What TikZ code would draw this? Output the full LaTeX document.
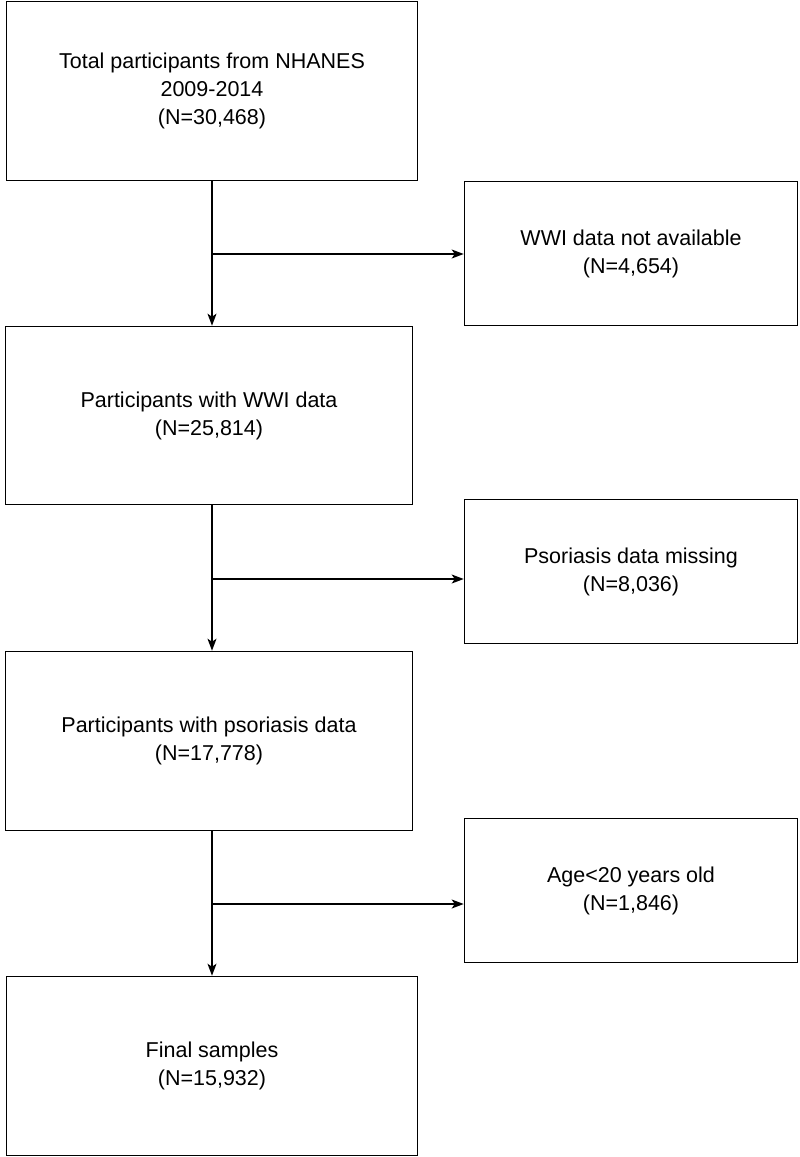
\documentclass[tikz,border=0pt]{standalone}
\usepackage{fontspec}
\setmainfont{Liberation Sans}
\usetikzlibrary{arrows.meta}
\begin{document}
\begin{tikzpicture}[x=1pt,y=-1pt,
  box/.style={draw=black, line width=1.6pt, inner sep=0pt, align=center,
    font=\fontsize{21.5}{28}\selectfont},
  link/.style={line width=1.3pt, draw=black},
  arr/.style={link, -{Stealth[length=12pt,width=9pt,inset=3pt]}}]
\useasboundingbox (0,0) rectangle (800,1157);
\node[box, minimum width=411pt, minimum height=179pt] (b1) at (212,91) {Total participants from NHANES\\2009-2014\\(N=30,468)};
\node[box, minimum width=407pt, minimum height=178pt] (b2) at (209,415.5) {Participants with WWI data\\(N=25,814)};
\node[box, minimum width=407pt, minimum height=179pt] (b3) at (209,741) {Participants with psoriasis data\\(N=17,778)};
\node[box, minimum width=411pt, minimum height=179pt] (b4) at (212,1066) {Final samples\\(N=15,932)};
\node[box, minimum width=333pt, minimum height=144pt] (r1) at (631,253.5) {WWI data not available\\(N=4,654)};
\node[box, minimum width=333pt, minimum height=144pt] (r2) at (631,571.5) {Psoriasis data missing\\(N=8,036)};
\node[box, minimum width=333pt, minimum height=144pt] (r3) at (631,890.5) {Age<20 years old\\(N=1,846)};
\coordinate (j1) at (212,254);
\coordinate (j2) at (212,579);
\coordinate (j3) at (212,904);
\draw[arr] (b1.south) -- (b1.south |- b2.north);
\draw[arr] (b1.south |- b2.south) -- (b1.south |- b3.north);
\draw[arr] (b1.south |- b3.south) -- (b4.north);
\draw[arr] (j1) -- (j1 -| r1.west);
\draw[arr] (j2) -- (j2 -| r2.west);
\draw[arr] (j3) -- (j3 -| r3.west);
\end{tikzpicture}
\end{document}
